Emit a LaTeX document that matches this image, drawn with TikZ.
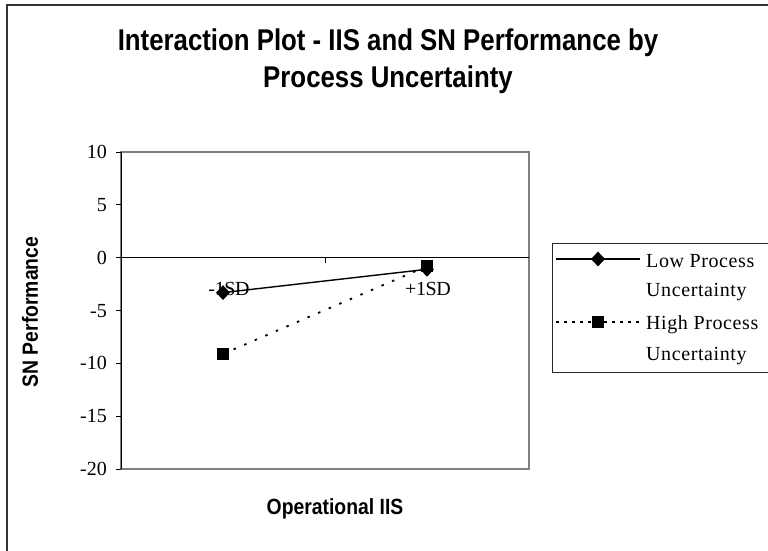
\documentclass[tikz,border=0pt]{standalone}
\usepackage{fontspec}
\setmainfont{Liberation Serif}
\newfontfamily\titlefont{Liberation Sans Bold}[FakeStretch=0.86]
\newfontfamily\axisfont{Liberation Sans Bold}[FakeStretch=0.88]
\usetikzlibrary{shapes.geometric}
\tikzset{
  x=1pt, y=-1pt,
  ticklab/.style={anchor=east, font=\fontsize{20}{20}\selectfont, inner sep=0pt},
  catlab/.style={font=\fontsize{20}{20}\selectfont\addfontfeature{LetterSpace=-2}, inner sep=0pt},
  legtxt/.style={anchor=west, font=\fontsize{20}{20}\selectfont\addfontfeature{LetterSpace=3}, inner sep=0pt},
  dmark/.style={diamond, fill=black, inner sep=0pt, minimum width=14pt, minimum height=15pt},
  smark/.style={rectangle, fill=black, inner sep=0pt, minimum size=12pt},
  hiline/.style={line width=1.8pt, dash pattern=on 2.5pt off 9pt},
  loline/.style={line width=1.4pt},
  titlesty/.style={font=\titlefont\fontsize{30}{37}\selectfont, align=center, inner sep=0pt},
  axtitle/.style={font=\axisfont\fontsize{22}{22}\selectfont, inner sep=0pt},
}
\begin{document}
\begin{tikzpicture}
\useasboundingbox (0,0) rectangle (768,550);
% outer chart frame
\draw[line width=1.5pt, black!80] (7,560) -- (7,5) -- (780,5);
% title
\node[titlesty] (title) at (388,61) {Interaction Plot - IIS and SN Performance by\\Process Uncertainty};
% plot frame
\draw[line width=2pt, gray] (121,152) rectangle (529,469);
% y axis
\draw[line width=1pt, black] (121,152) -- (121,469);
\foreach \yy/\lab in {152/10, 204.8/5, 257.7/0, 310.6/-5, 363.4/-10, 416.3/-15, 469/-20}{
  \draw[line width=0.8pt] (116,\yy) -- (121,\yy);
  \node[ticklab] (t\lab) at (107,\yy) {\lab};
}
% zero line and category tick
\draw[line width=1pt] (121,257.7) -- (529,257.7);
\draw[line width=0.8pt] (325,257.7) -- (325,263);
% axis titles
\node[axtitle, rotate=90] (ylab) at (30,312) {SN Performance};
\node[axtitle] (xlab) at (335,509) {Operational IIS};
% data points
\coordinate (la) at (223,292.6);
\coordinate (lb) at (427,269.3);
\coordinate (ha) at (223,353.9);
\coordinate (hb) at (427,266.2);
\draw[loline] (la) -- (lb);
\draw[hiline] (ha) -- (hb);
\node[smark] (hbm) at (hb) {};
\node[dmark] (lbm) at (lb) {};
\node[dmark] (lam) at (la) {};
\node[smark] (ham) at (ha) {};
% category labels
\node[catlab] (c1) at (229,289) {-1SD};
\node[catlab] (c2) at (428,289) {+1SD};
% legend
\draw[line width=1pt, black!85] (552,372) -- (552,243) -- (780,243);
\draw[line width=1pt, black!85] (552,372) -- (780,372);
\coordinate (l1a) at (556,259);
\coordinate (l1b) at (640,259);
\coordinate (l2a) at (556,322);
\coordinate (l2b) at (640,322);
\draw[loline] (l1a) -- (l1b);
\draw[hiline, dash pattern=on 3pt off 5pt] (l2a) -- (l2b);
\node[dmark] (lm1) at (598,259) {};
\node[smark] (lm2) at (598,322) {};
\node[legtxt] (lt1) at (646,261) {Low Process};
\node[legtxt] (lt2) at (646,292) {Uncertainty};
\node[legtxt] (lt3) at (646,325) {High Process};
\node[legtxt] (lt4) at (646,356) {Uncertainty};
\end{tikzpicture}
\end{document}
